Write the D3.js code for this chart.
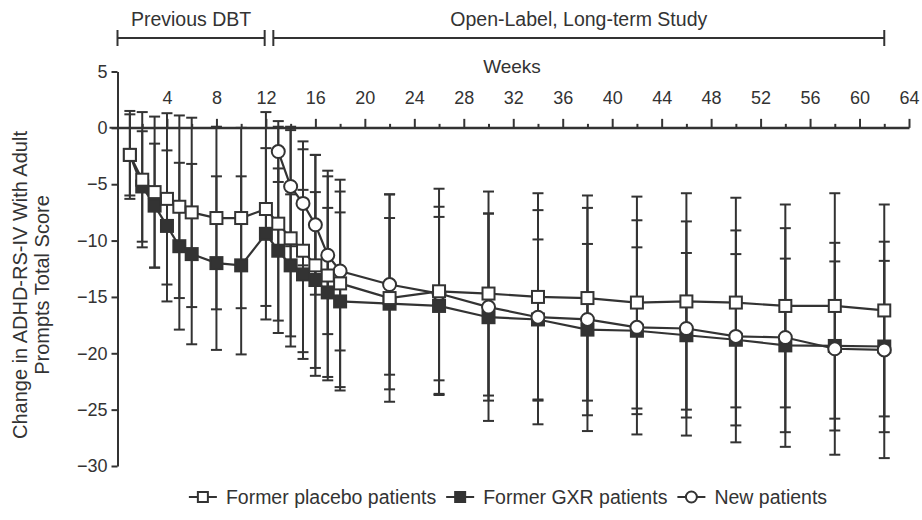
<!DOCTYPE html>
<html>
<head>
<meta charset="utf-8">
<script src="https://cdn.jsdelivr.net/npm/d3@7"></script>
<style>
  body { margin: 0; background: #fff; }
  svg text { font-family: "Liberation Sans", Arial, sans-serif; fill: #333; }
</style>
</head>
<body>
<div id="chart"></div>
<script>
// ---- data ----
const weeks = [1, 2, 3, 4, 5, 6, 8, 10, 12, 13, 14, 15, 16, 17, 18, 22, 26, 30, 34, 38, 42, 46, 50, 54, 58, 62];
const newWeeks = [13, 14, 15, 16, 17, 18, 22, 26, 30, 34, 38, 42, 46, 50, 54, 58, 62];

const placeboMean = [-2.4, -4.6, -5.7, -6.3, -7.0, -7.5, -8.0, -8.0, -7.2, -8.5, -9.8, -10.9, -12.2, -13.1, -13.8,
  -15.1, -14.5, -14.7, -15.0, -15.1, -15.5, -15.4, -15.5, -15.8, -15.8, -16.2];
const placeboSD = [3.9, 6.0, 6.7, 7.6, 8.1, 8.4, 8.1, 8.0, 8.6, 8.6, 9.6, 9.0, 9.8, 9.3, 9.2,
  9.2, 9.1, 9.05, 9.2, 9.1, 9.4, 9.6, 9.3, 9.0, 10.0, 9.4];

const gxrMean = [-2.4, -5.2, -6.9, -8.7, -10.5, -11.2, -12.0, -12.2, -9.4, -10.9, -12.2, -13.0, -13.5, -14.6, -15.4,
  -15.6, -15.8, -16.8, -17.0, -17.9, -18.0, -18.4, -18.8, -19.3, -19.35, -19.4];
const gxrSD = [3.6, 4.9, 5.5, 6.7, 7.4, 8.0, 7.7, 7.9, 7.6, 7.3, 6.3, 7.5, 7.8, 7.5, 7.9,
  7.6, 7.9, 9.2, 7.1, 7.6, 7.4, 7.3, 7.6, 7.7, 7.5, 7.6];

const newMean = [-2.1, -5.2, -6.7, -8.6, -11.3, -12.7, -13.9, -14.7, -15.9, -16.8, -17.0, -17.7, -17.8, -18.5, -18.6, -19.6, -19.7];
const newSD = [2.7, 5.3, 5.5, 6.2, 7.0, 7.05, 8.0, 7.7, 8.3, 9.5, 9.9, 9.5, 9.5, 9.4, 9.7, 9.4, 9.6];

const yTicks = [5, 0, -5, -10, -15, -20, -25, -30];
const xMajorTicks = [4, 8, 12, 16, 20, 24, 28, 32, 36, 40, 44, 48, 52, 56, 60, 64];
const xMinorTicks = [2, 6, 10, 14, 18, 22, 26, 30, 34, 38, 42, 46, 50, 54, 58, 62];

const phaseNames = ['Previous DBT', 'Open-Label, Long-term Study'];
const phaseStart = [0, 12.6];
const phaseEnd = [11.9, 62];

const seriesNames = ['Former placebo patients', 'Former GXR patients', 'New patients'];

// ---- setup ----
const ink = '#333';
const width = 922, height = 520;

const svg = d3.select('#chart').append('svg')
  .attr('width', width)
  .attr('height', height);

const x = d3.scaleLinear().domain([0, 64]).range([117.5, 909]);
const y = d3.scaleLinear().domain([-30, 5]).range([466, 71.5]);

const series = [
  { name: seriesNames[0], shape: 'square', fill: '#fff',
    pts: weeks.map((w, i) => ({ w, m: placeboMean[i], sd: placeboSD[i] })) },
  { name: seriesNames[1], shape: 'square', fill: ink,
    pts: weeks.map((w, i) => ({ w, m: gxrMean[i], sd: gxrSD[i] })) },
  { name: seriesNames[2], shape: 'circle', fill: '#fff',
    pts: newWeeks.map((w, i) => ({ w, m: newMean[i], sd: newSD[i] })) },
];

// ---- axes ----
const yAxis = d3.axisLeft(y).tickValues(yTicks).tickSize(6).tickSizeOuter(0).tickPadding(4);
const yG = svg.append('g').attr('transform', `translate(${x(0)},0)`).call(yAxis);

const xMinor = d3.axisTop(x).tickValues(xMinorTicks).tickSize(4).tickSizeOuter(0).tickFormat('');
const xMajor = d3.axisTop(x).tickValues(xMajorTicks).tickSize(9).tickSizeOuter(0).tickPadding(15);
const xG1 = svg.append('g').attr('transform', `translate(0,${y(0)})`).call(xMinor);
const xG2 = svg.append('g').attr('transform', `translate(0,${y(0)})`).call(xMajor);

[yG, xG1, xG2].forEach(g => {
  g.selectAll('path, line').attr('stroke', ink).attr('stroke-width', 2);
  g.selectAll('text').attr('font-size', 18).attr('fill', ink)
    .style('font-family', '"Liberation Sans", Arial, sans-serif');
});
xG2.select('.domain').attr('d', `M${x(0) - 8},0H${x(64)}`);

svg.append('text')
  .attr('x', 512).attr('y', 73)
  .attr('text-anchor', 'middle')
  .attr('font-size', 19)
  .text('Weeks');

// y title, two lines
const yTitle = svg.append('text')
  .attr('transform', 'translate(0,285) rotate(-90)')
  .attr('text-anchor', 'middle')
  .attr('font-size', 20);
yTitle.append('tspan').attr('x', 0).attr('y', 27).text('Change in ADHD-RS-IV With Adult');
yTitle.append('tspan').attr('x', 0).attr('y', 49).text('Prompts Total Score');

// ---- phase brackets ----
const bracketY = 38;
phaseNames.forEach((name, i) => {
  const g = svg.append('g');
  const x0 = x(phaseStart[i]), x1 = x(phaseEnd[i]);
  g.append('line').attr('x1', x0).attr('x2', x1).attr('y1', bracketY).attr('y2', bracketY)
    .attr('stroke', ink).attr('stroke-width', 2);
  [x0, x1].forEach(xx => g.append('line')
    .attr('x1', xx).attr('x2', xx).attr('y1', bracketY - 8).attr('y2', bracketY + 8)
    .attr('stroke', ink).attr('stroke-width', 2));
  g.append('text')
    .attr('x', (x0 + x1) / 2).attr('y', 26)
    .attr('text-anchor', 'middle')
    .attr('font-size', 19.5)
    .text(name);
});

// ---- error bars ----
const capW = 5.5;
const eb = svg.append('g').attr('stroke', ink).attr('stroke-width', 2);
series.forEach(s => {
  s.pts.forEach(p => {
    const cx = x(p.w), top = y(p.m + p.sd), bot = y(p.m - p.sd);
    eb.append('line').attr('x1', cx).attr('x2', cx).attr('y1', top).attr('y2', bot);
    eb.append('line').attr('x1', cx - capW).attr('x2', cx + capW).attr('y1', top).attr('y2', top);
    eb.append('line').attr('x1', cx - capW).attr('x2', cx + capW).attr('y1', bot).attr('y2', bot);
  });
});

// ---- lines ----
const line = d3.line().x(d => x(d.w)).y(d => y(d.m));
series.forEach(s => {
  svg.append('path').datum(s.pts)
    .attr('d', line)
    .attr('fill', 'none')
    .attr('stroke', ink)
    .attr('stroke-width', 2.2);
});

// ---- markers ----
function drawMarker(g, shape, fill, cx, cy, size) {
  const h = size / 2;
  if (shape === 'square') {
    g.append('rect')
      .attr('x', cx - h).attr('y', cy - h).attr('width', size).attr('height', size)
      .attr('fill', fill).attr('stroke', ink).attr('stroke-width', 2);
  } else {
    g.append('circle')
      .attr('cx', cx).attr('cy', cy).attr('r', h + 0.5)
      .attr('fill', fill).attr('stroke', ink).attr('stroke-width', 2);
  }
}
[1, 2, 0].forEach(k => {
  const s = series[k];
  const g = svg.append('g');
  s.pts.forEach(p => drawMarker(g, s.shape, s.fill, x(p.w), y(p.m), 12));
});

// ---- legend ----
const legend = svg.append('g');
let lx = 0;
series.forEach(s => {
  const item = legend.append('g').attr('transform', `translate(${lx},0)`);
  item.append('line').attr('x1', 0).attr('x2', 28).attr('y1', 0).attr('y2', 0)
    .attr('stroke', ink).attr('stroke-width', 2);
  drawMarker(item, s.shape, s.fill, 14, 0, 10);
  const t = item.append('text').attr('x', 37).attr('y', 7).attr('font-size', 19.5).text(s.name);
  lx += 37 + t.node().getComputedTextLength() + 10;
});
const legW = lx - 10;
legend.attr('transform', `translate(${508 - legW / 2},497)`);
</script>
</body>
</html>
